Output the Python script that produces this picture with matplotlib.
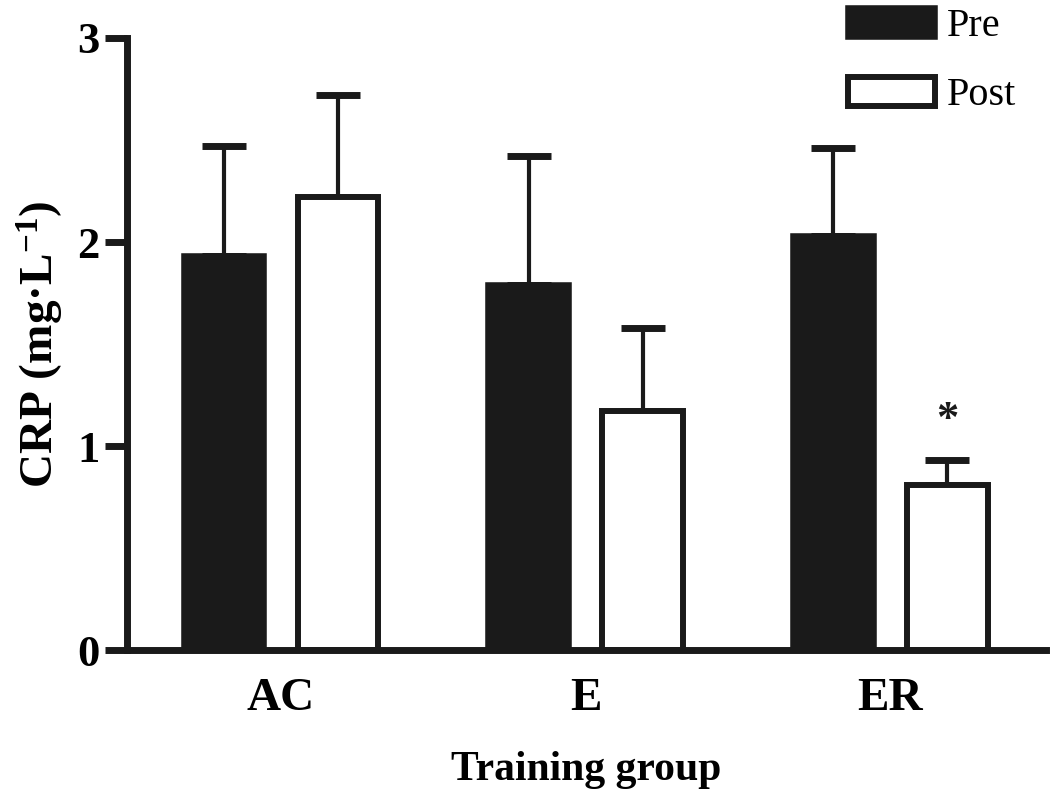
import numpy as np
import matplotlib
matplotlib.use("Agg")
import matplotlib.pyplot as plt

# Data
groups = ["AC", "E", "ER"]
pre_mean = [1.93, 1.79, 2.03]
pre_sd = [0.54, 0.63, 0.43]
post_mean = [2.22, 1.17, 0.81]
post_sd = [0.50, 0.41, 0.12]
y_ticks = [0, 1, 2, 3]

plt.rcParams["font.family"] = ["Liberation Serif", "DejaVu Serif"]
plt.rcParams["mathtext.fontset"] = "custom"
plt.rcParams["mathtext.rm"] = "Liberation Serif:bold"
plt.rcParams["mathtext.it"] = "Liberation Serif:bold"
plt.rcParams["mathtext.bf"] = "Liberation Serif:bold"

fig = plt.figure(figsize=(10.5, 7.91), dpi=100)
ax = fig.add_axes([0.121, 0.178, 0.875, 0.774])

x = np.arange(len(groups))
width = 0.265
offset = 0.187

ax.bar(x - offset, pre_mean, width, color="#1a1a1a", edgecolor="#1a1a1a",
       linewidth=4, label="Pre", zorder=2)
ax.bar(x + offset, post_mean, width, color="white", edgecolor="#1a1a1a",
       linewidth=4.3, label="Post", zorder=2)

# upper-only error bars
ax.errorbar(x - offset, pre_mean, yerr=[np.zeros(3), pre_sd], fmt="none",
            ecolor="#1a1a1a", elinewidth=3, capsize=16, capthick=5, zorder=1)
ax.errorbar(x + offset, post_mean, yerr=[np.zeros(3), post_sd], fmt="none",
            ecolor="#1a1a1a", elinewidth=3, capsize=16, capthick=5, zorder=1)

# significance mark on ER post
ax.text(x[2] + offset, post_mean[2] + post_sd[2] + 0.1, "*", ha="center",
        va="bottom", fontsize=32, fontweight="bold", color="#1a1a1a")

ax.set_xlim(-0.505, 2.51)
ax.set_ylim(0, 3)
ax.set_yticks(y_ticks)
ax.set_yticklabels([str(t) for t in y_ticks], fontsize=32, fontweight="bold")
ax.set_xticks(x)
ax.set_xticklabels(groups, fontsize=34, fontweight="bold")
ax.tick_params(axis="y", length=16, width=5, pad=4, color="#1a1a1a")
ax.tick_params(axis="x", length=0, pad=20)

for side in ["top", "right"]:
    ax.spines[side].set_visible(False)
for side in ["left", "bottom"]:
    ax.spines[side].set_linewidth(5)
    ax.spines[side].set_color("#1a1a1a")

ax.set_ylabel("CRP (mg·L$^{-1}$)", fontsize=34, fontweight="bold", labelpad=8)
ax.set_xlabel("Training group", fontsize=30, fontweight="bold", labelpad=22)

leg = ax.legend(loc="upper left", bbox_to_anchor=(848 / 1050, 1 - 8 / 791),
                bbox_transform=fig.transFigure, frameon=False, fontsize=29,
                handlelength=2.15, handleheight=0.72, handletextpad=0.3,
                labelspacing=0.78, borderpad=0, borderaxespad=0)

fig.savefig("out.png", dpi=100)
